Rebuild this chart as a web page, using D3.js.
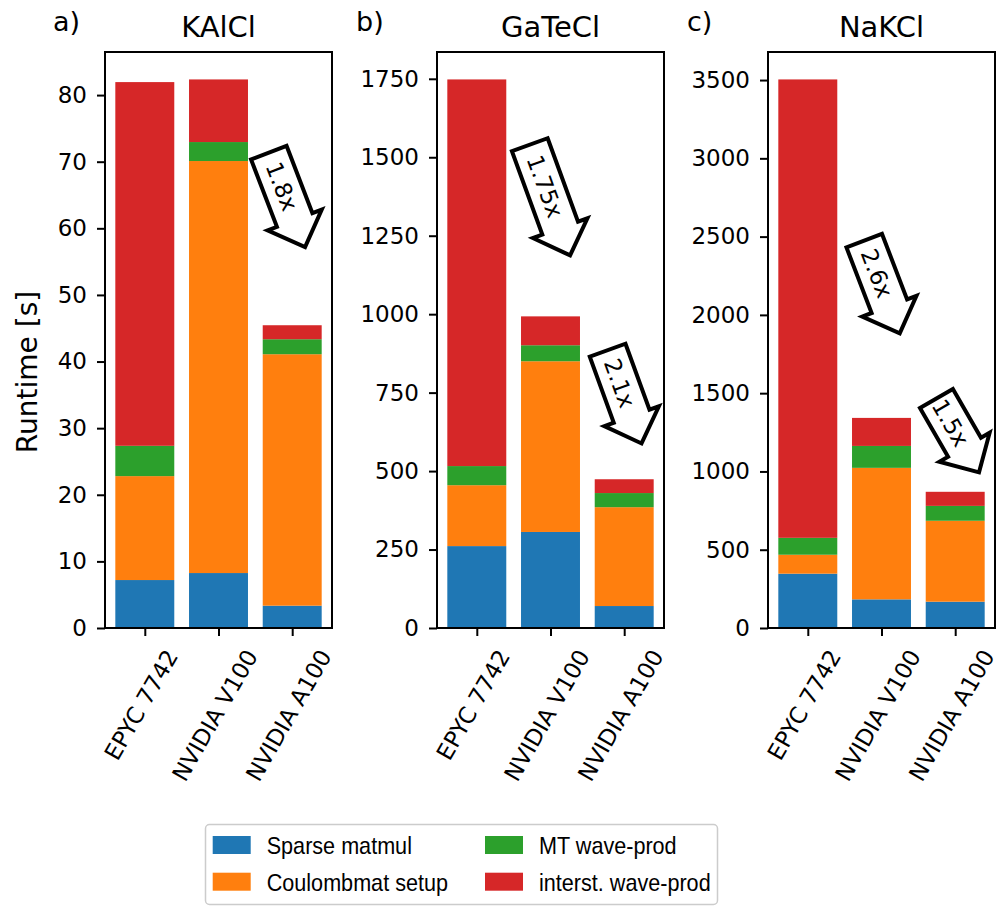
<!DOCTYPE html>
<html>
<head>
<meta charset="utf-8">
<script src="https://cdn.jsdelivr.net/npm/d3@7"></script>
<style>
  body { margin: 0; background: #fff; }
  svg text { font-family: "DejaVu Sans", sans-serif; fill: #000; }
</style>
</head>
<body>
<svg id="chart" width="997" height="906"></svg>
<script>
// ---- data -------------------------------------------------------------
const devices = ["EPYC 7742", "NVIDIA V100", "NVIDIA A100"];
const systems = ["KAlCl", "GaTeCl", "NaKCl"];
const panelLetters = ["a)", "b)", "c)"];
const components = ["Sparse matmul", "Coulombmat setup", "MT wave-prod", "interst. wave-prod"];

// runtime per component [s], one row per system, one entry per device
const sparseMatmul    = [[7.2, 8.25, 3.35], [261, 306, 70],  [347, 183, 168]];
const coulombSetup    = [[15.6, 61.85, 37.75], [194, 544, 315], [121, 840, 517]];
const mtWaveProd      = [[4.55, 2.85, 2.25], [61, 51, 45],   [108, 140, 95]];
const interstWaveProd = [[54.6, 9.4, 2.1],  [1232, 92, 44], [2928, 179, 90]];

const yTickSteps = [10, 250, 500];

// speed-up arrows: panel, label, position (device index units, seconds), tilt
const speedupPanel = [0, 1, 1, 2, 2];
const speedupLabel = ["1.8x", "1.75x", "2.1x", "2.6x", "1.5x"];
const speedupX     = [1.858, 0.925, 1.938, 0.936, 1.936];
const speedupY     = [66.3, 1407, 780, 2265, 1310];
const speedupAngle = [69, 70, 70, 69, 60];
const speedupExtra = [22, 24, 20, 20, 6];

// ---- layout -----------------------------------------------------------
const colors = ["#1f77b4", "#ff7f0e", "#2ca02c", "#d62728"];
const axTop = 52, axBottom = 628, axWidth = 227;
const axLefts = [105, 437, 768];
const letterOffsets = [-52, -81, -81];
const tickFont = 23;

const svg = d3.select("#chart");
const series = [sparseMatmul, coulombSetup, mtWaveProd, interstWaveProd];

systems.forEach((sys, p) => {
  const left = axLefts[p];
  const rows = devices.map((dev, i) => {
    const r = { device: dev, idx: i };
    components.forEach((c, k) => r[c] = series[k][p][i]);
    return r;
  });
  const stacked = d3.stack().keys(components)(rows);
  const maxTotal = d3.max(stacked[stacked.length - 1], d => d[1]);
  const yMax = maxTotal * 1.05;

  const x = d3.scaleLinear().domain([-0.54, 2.54]).range([left, left + axWidth]);
  const y = d3.scaleLinear().domain([0, yMax]).range([axBottom, axTop]);

  const g = svg.append("g");

  // stacked bars
  stacked.forEach((layer, k) => {
    g.append("g").attr("fill", colors[k])
      .selectAll("rect").data(layer).join("rect")
      .attr("x", d => x(d.data.idx - 0.4))
      .attr("width", d => x(d.data.idx + 0.4) - x(d.data.idx - 0.4))
      .attr("y", d => y(d[1]))
      .attr("height", d => y(d[0]) - y(d[1]));
  });

  // y axis
  const step = yTickSteps[p];
  const yAxis = g.append("g")
    .attr("transform", `translate(${left},0)`)
    .call(d3.axisLeft(y).tickValues(d3.range(0, yMax, step))
      .tickFormat(d3.format("d")).tickSize(8).tickPadding(10));
  yAxis.select(".domain").remove();
  yAxis.selectAll("line").attr("stroke", "#000").attr("stroke-width", 2);
  yAxis.selectAll("text").attr("font-size", tickFont).attr("font-family", "DejaVu Sans");

  // x axis with slanted device names
  const xAxis = g.append("g")
    .attr("transform", `translate(0,${axBottom})`)
    .call(d3.axisBottom(x).tickValues([0, 1, 2]).tickFormat(i => devices[i]).tickSize(8));
  xAxis.select(".domain").remove();
  xAxis.selectAll("line").attr("stroke", "#000").attr("stroke-width", 2);
  xAxis.selectAll("text")
    .attr("font-size", tickFont).attr("font-family", "DejaVu Sans")
    .each(function () {
      const t = d3.select(this);
      const len = this.getComputedTextLength();
      const h = tickFont * 1.17;
      const a = Math.PI / 3;
      const bh = len * Math.sin(a) + h * Math.cos(a);
      const cy = 8 + 9 + bh / 2;
      t.attr("x", -4).attr("y", cy).attr("dy", null)
        .attr("text-anchor", "middle").attr("dominant-baseline", "central")
        .attr("transform", `rotate(-60 -4 ${cy})`);
    });

  // frame
  g.append("rect")
    .attr("x", left).attr("y", axTop)
    .attr("width", axWidth).attr("height", axBottom - axTop)
    .attr("fill", "none").attr("stroke", "#000").attr("stroke-width", 2);

  // title and panel letter
  g.append("text").attr("x", left + axWidth / 2).attr("y", 37)
    .attr("text-anchor", "middle").attr("font-size", 29).text(sys);
  g.append("text").attr("x", left + letterOffsets[p]).attr("y", 31)
    .attr("font-size", 27).text(panelLetters[p]);

  // speed-up arrows
  speedupLabel.forEach((lab, j) => {
    if (speedupPanel[j] !== p) return;
    const ag = g.append("g")
      .attr("transform", `translate(${x(speedupX[j])},${y(speedupY[j])}) rotate(${speedupAngle[j]})`);
    const path = ag.append("path");
    const txt = ag.append("text")
      .attr("text-anchor", "middle").attr("dominant-baseline", "central")
      .attr("font-size", 23).text(lab);
    const L = txt.node().getComputedTextLength() + speedupExtra[j];
    const H = 38, e = 10, tip = 29;
    const pts = [
      [-L / 2, -H / 2], [L / 2, -H / 2], [L / 2, -H / 2 - e], [L / 2 + tip, 0],
      [L / 2, H / 2 + e], [L / 2, H / 2], [-L / 2, H / 2]
    ];
    path.attr("d", d3.line()(pts) + "Z")
      .attr("fill", "#fff").attr("stroke", "#000")
      .attr("stroke-width", 4).attr("stroke-linejoin", "miter");
  });
});

// y label
svg.append("text")
  .attr("transform", "translate(27,372) rotate(-90)")
  .attr("text-anchor", "middle").attr("dominant-baseline", "central")
  .attr("font-size", 28).text("Runtime [s]");

// legend
const legend = svg.append("g");
legend.append("rect")
  .attr("x", 205.5).attr("y", 824.5).attr("width", 512).attr("height", 80)
  .attr("rx", 4).attr("fill", "#fff").attr("stroke", "#cccccc").attr("stroke-width", 1.5);
const legCols = [212.7, 485];
const legRows = [836, 872.7];
components.forEach((c, k) => {
  const col = Math.floor(k / 2), row = k % 2;
  legend.append("rect")
    .attr("x", legCols[col]).attr("y", legRows[row])
    .attr("width", 38).attr("height", 18).attr("fill", colors[k]);
  legend.append("g")
    .attr("transform", `translate(${legCols[col] + 54},${legRows[row] + 18}) scale(0.9,1)`)
    .append("text")
    .style("font-family", "'Liberation Sans', Arial, sans-serif")
    .attr("font-size", 24)
    .text(c);
});
</script>
</body>
</html>
